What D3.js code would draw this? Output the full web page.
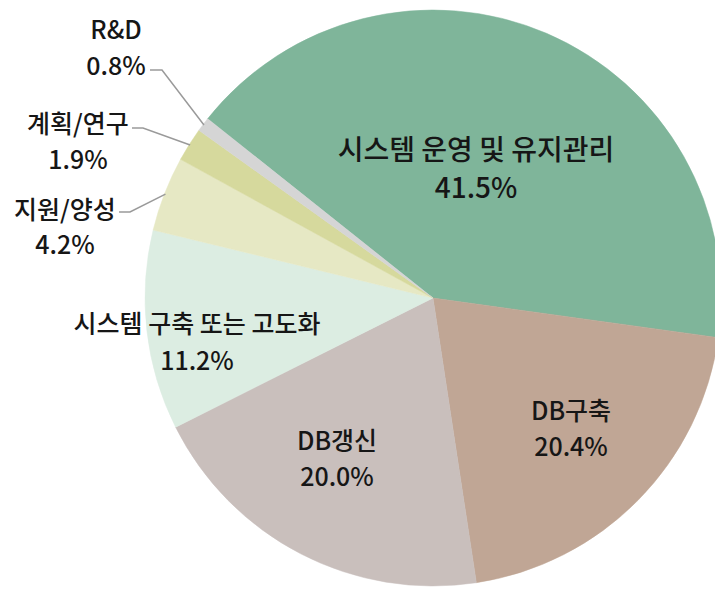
<!DOCTYPE html>
<html><head><meta charset="utf-8">
<script src="https://cdn.jsdelivr.net/npm/d3@7"></script>
<style>
html,body{margin:0;padding:0;background:#fff;}
svg{display:block;}
text{font-family:"Noto Sans CJK KR","Noto Sans",sans-serif;fill:#161616;}
</style></head>
<body><svg id="chart" width="715" height="589"></svg>
<script>
// Data
const categories = ["시스템 운영 및 유지관리","DB구축","DB갱신","시스템 구축 또는 고도화","지원/양성","계획/연구","R&D"];
const values = [41.5, 20.4, 20.0, 11.2, 4.2, 1.9, 0.8];
const valueLabels = ["41.5%","20.4%","20.0%","11.2%","4.2%","1.9%","0.8%"];
const colors = ["#7fb59a","#c0a695","#c9bfbc","#dcede2","#e6e8c4","#d6d99d","#d5d5d5"];

// Layout (annotation positions)
const cx = 433, cy = 298, R = 288;
const startDeg = -51.5;
const labelLayout = [
  {x:476, y:148, size:28, weight:500, gap:38, callout:false},
  {x:571, y:409, size:25, weight:500, gap:36, callout:false},
  {x:337, y:439, size:25, weight:500, gap:36, callout:false},
  {x:197, y:322, size:25, weight:500, gap:37, callout:false},
  {x:65,  y:208, size:25, weight:500, gap:35, callout:true, elbow:[130,212], lineStart:[119,212]},
  {x:78,  y:122, size:25, weight:500, gap:36, callout:true, elbow:[143,128], lineStart:[132,128]},
  {x:116, y:28,  size:25, weight:500, gap:36, callout:true, elbow:[162,70], lineStart:[150,70]}
];

const svg = d3.select("#chart");
const g = svg.append("g").attr("transform", `translate(${cx},${cy})`);

const pie = d3.pie().sort(null).value(d => d)
  .startAngle(startDeg * Math.PI/180)
  .endAngle(startDeg * Math.PI/180 + 2*Math.PI);
const arcs = pie(values);
const arc = d3.arc().innerRadius(0).outerRadius(R);
const color = d3.scaleOrdinal().domain(categories).range(colors);

g.selectAll("path.slice").data(arcs).enter().append("path")
  .attr("class","slice")
  .attr("d", arc)
  .attr("fill", (d,i) => color(categories[i]))
  .attr("stroke", (d,i) => color(categories[i]))
  .attr("stroke-width", 0.5);

// leader lines
const outerArc = d3.arc().innerRadius(R - 1).outerRadius(R - 1);
arcs.forEach((a, i) => {
  const L = labelLayout[i];
  if (!L.callout) return;
  const p = outerArc.centroid(a);
  const pts = [[L.lineStart[0]-cx, L.lineStart[1]-cy],[L.elbow[0]-cx, L.elbow[1]-cy],[p[0],p[1]]];
  g.append("path").attr("d", d3.line()(pts))
    .attr("fill","none").attr("stroke","#9a9a9a").attr("stroke-width",1.5);
});

// labels
const lab = svg.append("g");
categories.forEach((c, i) => {
  const L = labelLayout[i];
  const t = lab.append("text").attr("text-anchor","middle")
    .style("font-size", L.size + "px").style("font-weight", L.weight);
  t.append("tspan").attr("x", L.x).attr("y", L.y).attr("dominant-baseline","central").text(c);
  t.append("tspan").attr("x", L.x).attr("y", L.y + L.gap).attr("dominant-baseline","central").text(valueLabels[i]);
});
</script>
</body></html>
